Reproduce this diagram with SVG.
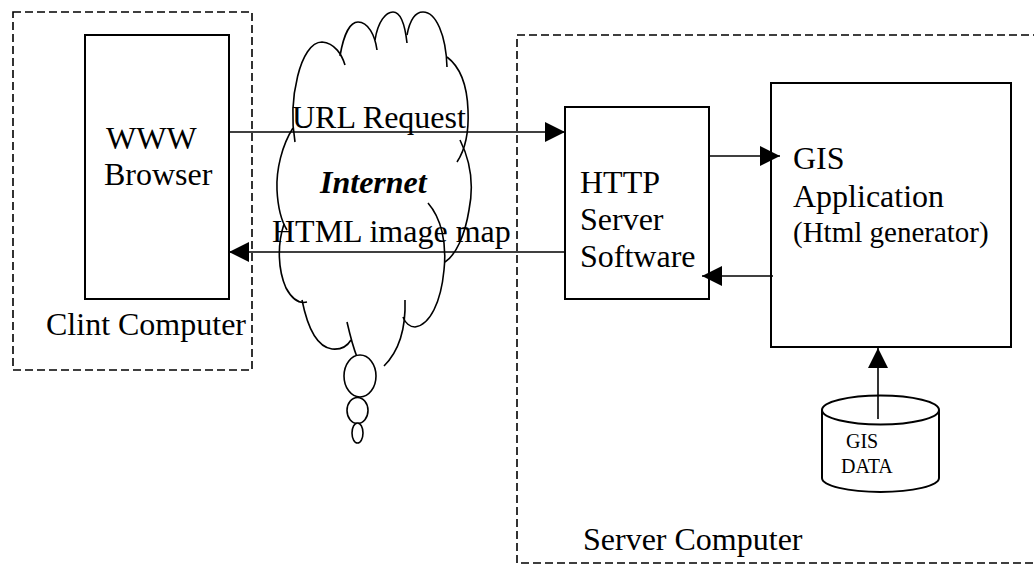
<svg xmlns="http://www.w3.org/2000/svg" width="1034" height="564" viewBox="0 0 1034 564">
<style>
  .t{font-family:"Liberation Serif","Times New Roman",serif;font-size:32px;fill:#000}
  .box{fill:#fff;stroke:#000;stroke-width:2}
  .dash{fill:none;stroke:#000;stroke-width:1.6;stroke-dasharray:8 4}
  .cl{fill:none;stroke:#000;stroke-width:1.6}
  .con{fill:none;stroke:#000;stroke-width:1.6}
</style>
<defs>
  <marker id="ah" markerWidth="20" markerHeight="20" refX="20" refY="10" orient="auto" markerUnits="userSpaceOnUse">
    <path d="M0,0 L20,10 L0,20 z" fill="#000"/>
  </marker>
  <clipPath id="swclip"><rect x="560" y="100" width="160" height="167"/></clipPath>
</defs>
<rect fill="#fff" x="0" y="0" width="1034" height="564"/>

<g id="client-computer">
  <rect class="dash" x="13" y="12" width="239" height="358"/>
  <text class="t" x="46" y="335">Clint Computer</text>
</g>

<g id="server-computer">
  <rect class="dash" x="517" y="35" width="540" height="528"/>
  <text class="t" x="583" y="550">Server Computer</text>
</g>

<g id="internet-cloud">
  <path class="cl" d="M295,142 C288,100 300,42 322,42 C335,43 342,55 345,65"/>
  <path class="cl" d="M340,56 C344,32 351,22 358,22 C368,22 375,35 377,50"/>
  <path class="cl" d="M375,40 C378,21 386,12 393,12 C401,12 405,25 407,43"/>
  <path class="cl" d="M407,35 C410,19 416,12 423,12 C436,12 446,35 447,67"/>
  <path class="cl" d="M447,57 C459,66 467,82 468,110 C469,132 465,150 457,162"/>
  <path class="cl" d="M460,140 C470,160 474,185 469,210 C465,235 456,255 445,262"/>
  <path class="cl" d="M428,203 C441,218 447,242 444,270 C441,302 430,325 415,327 C410,327 405,323 403,317"/>
  <path class="cl" d="M405,300 C406,330 398,352 384,366"/>
  <path class="cl" d="M293,128 C282,145 276,170 277,190 C278,210 282,222 287,230"/>
  <path class="cl" d="M284,224 C277,245 278,270 286,288 C292,299 299,304 307,302"/>
  <path class="cl" d="M302,300 C308,330 318,347 332,349 C342,350 348,345 351,340"/>
  <path class="cl" d="M347,322 C350,335 353,347 357,357"/>
  <ellipse class="cl" style="fill:#fff" cx="360" cy="376" rx="16" ry="21"/>
  <ellipse class="cl" style="fill:#fff" cx="357.5" cy="410.5" rx="10.5" ry="13"/>
  <ellipse class="cl" style="fill:#fff" cx="357.5" cy="433" rx="5.5" ry="10"/>
  <text class="t" x="320" y="193" font-weight="bold" font-style="italic">Internet</text>
</g>

<g id="www-browser">
  <rect class="box" x="85" y="35" width="144" height="264"/>
  <text class="t" x="106" y="149">WWW</text>
  <text class="t" x="104" y="185">Browser</text>
</g>

<g id="http-server">
  <rect class="box" x="565" y="107" width="144" height="192"/>
  <text class="t" x="580" y="193">HTTP</text>
  <text class="t" x="580" y="230">Server</text>
  <text class="t" x="580" y="267" clip-path="url(#swclip)">Software</text>
</g>

<g id="gis-application">
  <rect class="box" x="771" y="83" width="240" height="264"/>
  <text class="t" x="793" y="169">GIS</text>
  <text class="t" x="793" y="207">Application</text>
  <text class="t" x="793" y="242" style="font-size:29px">(Html generator)</text>
</g>

<g id="gis-data">
  <path class="box" d="M822,410 L822,478 A58.5,14 0 0 0 939,478 L939,410"/>
  <ellipse class="box" cx="880.5" cy="410" rx="58.5" ry="14.5"/>
  <text class="t" x="846" y="448" style="font-size:20px">GIS</text>
  <text class="t" x="841" y="473" style="font-size:20px">DATA</text>
</g>

<g id="connectors">
  <line class="con" x1="229" y1="132" x2="565" y2="132" marker-end="url(#ah)"/>
  <text class="t" x="292" y="128">URL Request</text>
  <line class="con" x1="565" y1="252" x2="229" y2="252" marker-end="url(#ah)"/>
  <text class="t" x="272" y="242">HTML image map</text>
  <line class="con" x1="709" y1="156" x2="780" y2="156" marker-end="url(#ah)"/>
  <line class="con" x1="773" y1="276" x2="702" y2="276" marker-end="url(#ah)"/>
  <line class="con" x1="878" y1="419" x2="878" y2="348" marker-end="url(#ah)"/>
</g>
</svg>
